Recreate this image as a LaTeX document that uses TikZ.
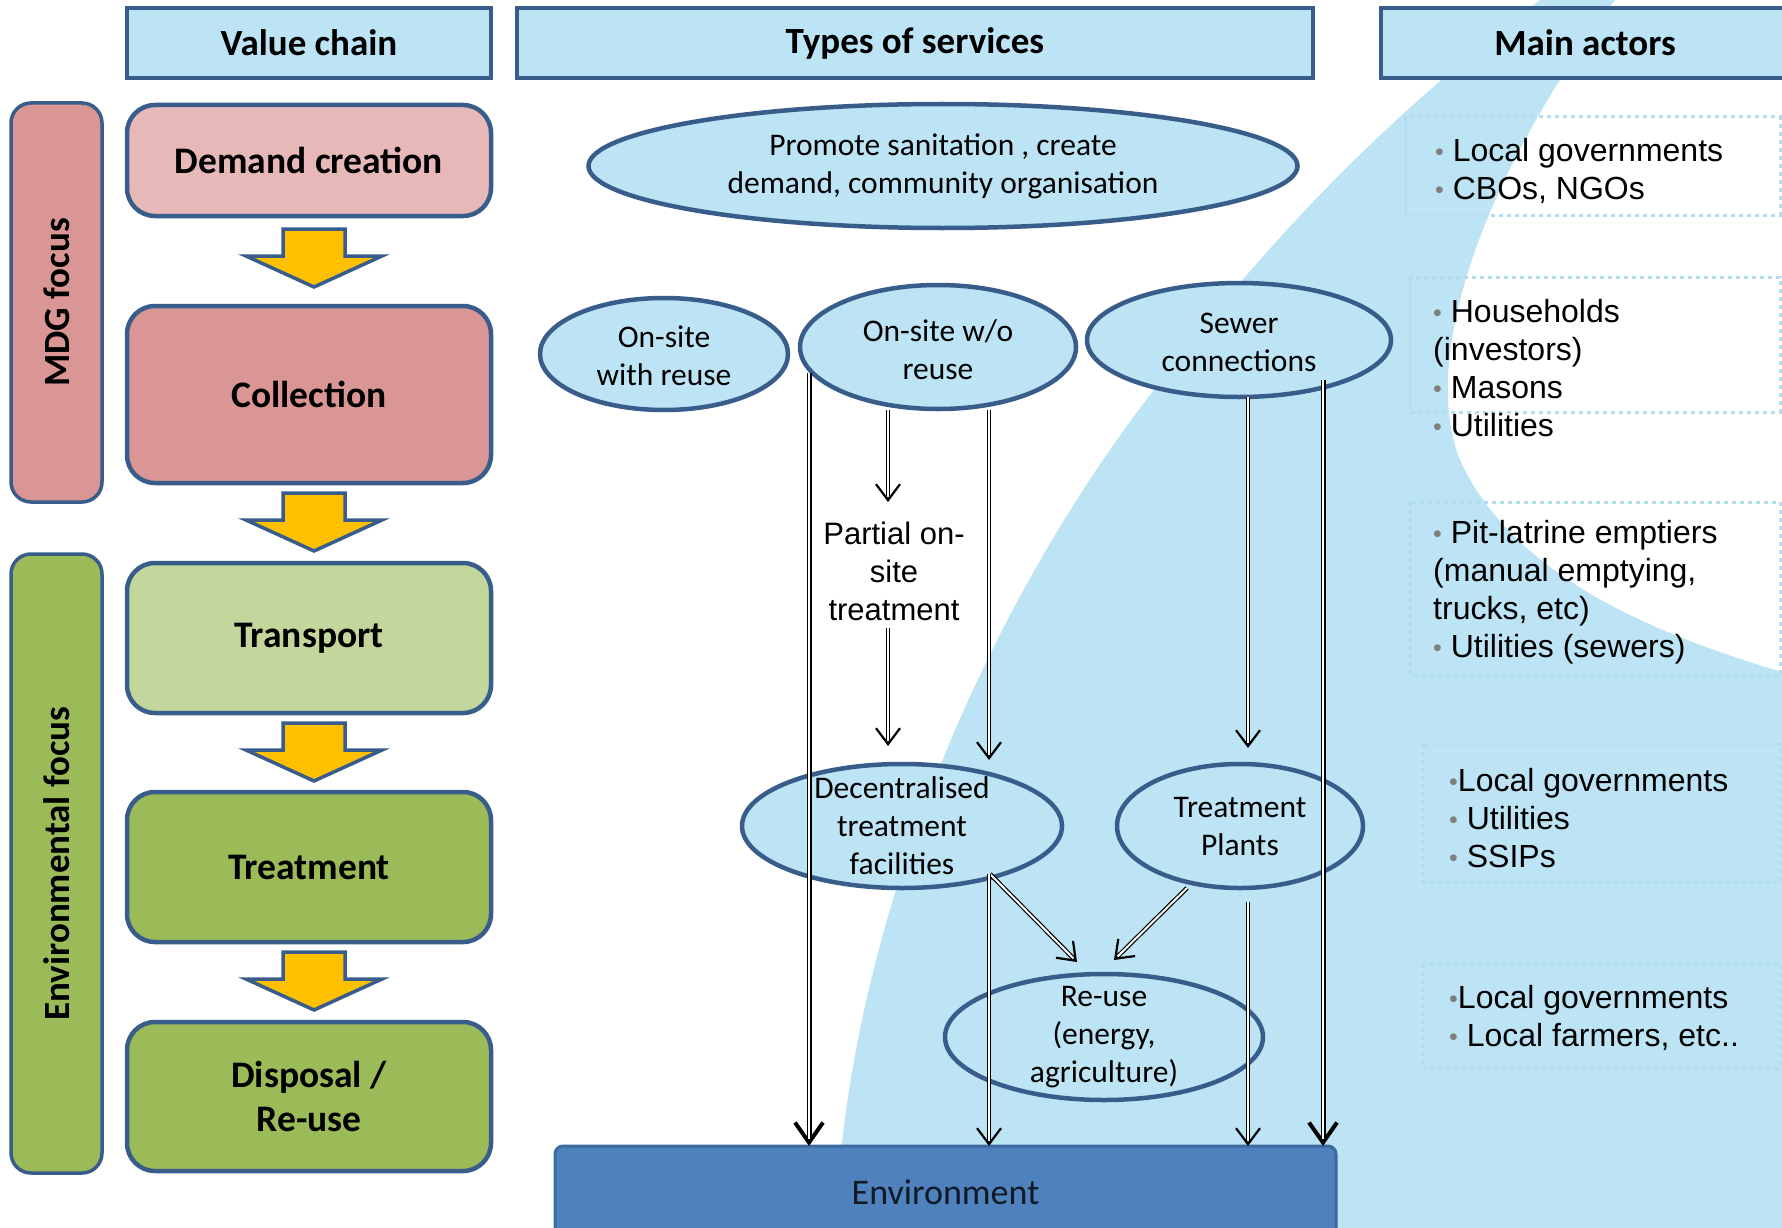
\documentclass[tikz,border=0pt]{standalone}
\usepackage{fontspec}
\setmainfont{Carlito}
\newfontfamily\arialf{Liberation Sans}
\usetikzlibrary{shapes.geometric,arrows.meta,calc}
\definecolor{bord}{HTML}{385D8A}
\definecolor{lblue}{HTML}{BCE4F5}
\definecolor{pinkL}{HTML}{E6B9B8}
\definecolor{pinkD}{HTML}{D99694}
\definecolor{greenL}{HTML}{C3D69B}
\definecolor{greenD}{HTML}{9BBB59}
\definecolor{yel}{HTML}{FFC000}
\definecolor{envf}{HTML}{4F81BD}
\definecolor{envd}{HTML}{3C6A9E}
\definecolor{envt}{HTML}{0F1A26}
\definecolor{bgrey}{HTML}{7F7F7F}
\definecolor{dotc}{HTML}{B4DCEF}
\newcommand\abul{{\color{bgrey}\fontsize{25}{25}\selectfont\raisebox{1pt}{•}}}
\tikzset{
  hdr/.style={draw=bord, line width=4pt, fill=lblue, inner sep=0pt, outer sep=0pt, minimum height=70pt, font=\fontsize{37}{44}\selectfont\bfseries},
  vc/.style={draw=bord, line width=4.5pt, rounded corners=28pt, inner sep=0pt, outer sep=0pt, minimum width=364pt, align=center, font=\fontsize{37.5}{44}\selectfont\bfseries},
  focusbar/.style={draw=bord, line width=3.5pt, rounded corners=20pt, inner sep=0pt, outer sep=0pt, minimum height=91pt, rotate=90, font=\fontsize{37}{42}\selectfont\bfseries},
  yarr/.style={fill=yel, draw=bord, line width=3.5pt, line join=miter},
  ell/.style={ellipse, draw=bord, line width=4.5pt, fill=lblue, inner sep=0pt, outer sep=0pt},
  etext/.style={align=center, inner sep=0pt, font=\fontsize{31.5}{38}\selectfont},
  ptext/.style={align=center, inner sep=0pt, font=\arialf\fontsize{31}{38}\selectfont},
  actor/.style={anchor=west, align=left, inner sep=0pt, font=\arialf\fontsize{32}{38}\selectfont},
  dotbox/.style={draw=dotc, line width=3pt, dash pattern=on 4pt off 4pt},
  flow/.style={draw=black, line width=4.4pt, -{Straight Barb[length=16pt,width=24pt,line width=2.2pt]}, postaction={draw=white, line width=2pt, -, shorten >=5pt}},
  flowb/.style={draw=black, line width=5pt, -{Straight Barb[length=20pt,width=28pt,line width=4pt]}, postaction={draw=white, line width=2pt, -, shorten >=7pt}},
  yelarrow/.pic={\draw[yarr] (-31,0) -- (31,0) -- (31,27) -- (68,27) -- (0,58) -- (-68,27) -- (-31,27) -- cycle;}
}
\begin{document}
\begin{tikzpicture}[x=1pt,y=-1pt]
\useasboundingbox (0,0) rectangle (1782,1228);
\fill[white] (0,0) rectangle (1782,1228);
% background blob
\fill[lblue] (1540,0) .. controls (1410,100) and (1290,210) .. (1150,395)
  .. controls (1000,590) and (850,900) .. (835,1228) -- (1782,1228) -- (1782,672)
  .. controls (1640,630) and (1510,570) .. (1460,460)
  .. controls (1420,360) and (1480,180) .. (1615,0) -- cycle;
% dotted actor boxes
\draw[dotbox] (1405,117) rectangle (1780,215);
\draw[dotbox] (1410,277) rectangle (1780,412);
\draw[dotbox] (1410,502) rectangle (1780,675);
\draw[dotbox] (1423,744) rectangle (1780,882);
\draw[dotbox] (1423,964) rectangle (1780,1068);
% headers
\node[hdr, minimum width=364pt] (h1) at (309,43) {Value chain};
\node[hdr, minimum width=796pt] (h2) at (915,43) {Types of services};
\node[hdr, minimum width=408pt] (h3) at (1585,43) {Main actors};
% focus bars
\node[focusbar, fill=pinkD, minimum width=399pt] (mdg) at (56.5,302.5) {MDG focus};
\node[focusbar, fill=greenD, minimum width=619pt] (envfoc) at (56.5,863.5) {Environmental focus};
% value chain boxes
\node[vc, fill=pinkL, minimum height=111pt] (dem) at (309,160.5) {Demand creation};
\node[vc, fill=pinkD, minimum height=177pt] (col) at (309,394.5) {Collection};
\node[vc, fill=greenL, minimum height=150pt] (tra) at (309,638) {Transport};
\node[vc, fill=greenD, minimum height=150pt] (tre) at (309,867) {Treatment};
\node[vc, fill=greenD, minimum height=149pt] (dis) at (309,1096.5) {Disposal /\\Re-use};
\pic at (314,229) {yelarrow};
\pic at (314,493) {yelarrow};
\pic at (314,723) {yelarrow};
\pic at (314,952) {yelarrow};
% service ellipses
\node[ell, minimum width=709pt, minimum height=124pt] (ps) at (943,166) {};
\node[etext] (pst) at (ps.center) {Promote sanitation , create\\demand, community organisation};
\node[ell, minimum width=248pt, minimum height=112pt] (owr) at (664,354) {};
\node[etext] (owrt) at ([yshift=-2pt]owr.center) {On-site\\with reuse};
\node[ell, minimum width=276pt, minimum height=124pt] (ow) at (938,347) {};
\node[etext] (owt) at ([yshift=-3pt]ow.center) {On-site w/o\\reuse};
\node[ell, minimum width=304pt, minimum height=114pt] (sw) at (1239,340) {};
\node[etext] (swt) at ([yshift=-2pt]sw.center) {Sewer\\connections};
\node[ptext, anchor=north] (pt) at (894,522) {Partial on-\\site\\treatment};
\node[ell, minimum width=320pt, minimum height=124pt] (dc) at (902,826) {};
\node[etext] (dct) at (dc.center) {Decentralised\\treatment\\facilities};
\node[ell, minimum width=246pt, minimum height=124pt] (tp) at (1240,826) {};
\node[etext] (tpt) at (tp.center) {Treatment\\Plants};
\node[ell, minimum width=318pt, minimum height=126pt] (ru) at (1104,1037) {};
\node[etext] (rut) at (ru.center) {Re-use\\(energy,\\agriculture)};
% environment
\node[draw=envd, fill=envf, line width=3pt, rounded corners=8pt, inner sep=0pt, outer sep=0pt,
      minimum width=781pt, minimum height=92pt, font=\fontsize{36}{40}\selectfont, text=envt]
      (env) at (945.5,1192) {Environment};
% flows
\coordinate (dS) at ($(ow.center)+(-129,26)$);
\coordinate (fS) at ($(sw.center)+(84,40)$);
\coordinate (iS) at ($(dc.center)+(87,48)$);
\coordinate (jS) at ($(tp.south)+(8,14)$);
\draw[flow] ($(ow.south)+(-50,1)$) -- ($(pt.north)+(-6,-20)$);
\draw[flow] ($(pt.south)+(-6,7)$) -- ($(dc.north)+(-14,-18)$);
\draw[flow] ($(ow.south)+(51,1)$) -- ($(dc.north)+(87,-4)$);
\draw[flowb] (dS) -- (dS |- env.north);
\draw[flow] ($(sw.south)+(9,0)$) -- ($(tp.north)+(8,-16)$);
\draw[flowb] (fS) -- (fS |- env.north);
\draw[flow] ($(dc.center)+(88,48)$) -- ($(ru.north)+(-27,-12)$);
\draw[flow] ($(tp.center)+(-53,62)$) -- ($(ru.north)+(10,-14)$);
\draw[flow] (iS) -- (iS |- env.north);
\draw[flow] (jS) -- (jS |- env.north);
% actors
\node[actor] (a1) at (1435,171) {\abul\ Local governments\\\abul\ CBOs, NGOs};
\node[actor] (a2) at (1433,368) {\abul\ Households\\(investors)\\\abul\ Masons\\\abul\ Utilities};
\node[actor] (a3) at (1433,592) {\abul\ Pit-latrine emptiers\\(manual emptying,\\trucks, etc)\\\abul\ Utilities (sewers)};
\node[actor] (a4) at (1449,818) {\abul Local governments\\\abul\ Utilities\\\abul\ SSIPs};
\node[actor] (a5) at (1449,1018) {\abul Local governments\\\abul\ Local farmers, etc..};
\end{tikzpicture}
\end{document}
